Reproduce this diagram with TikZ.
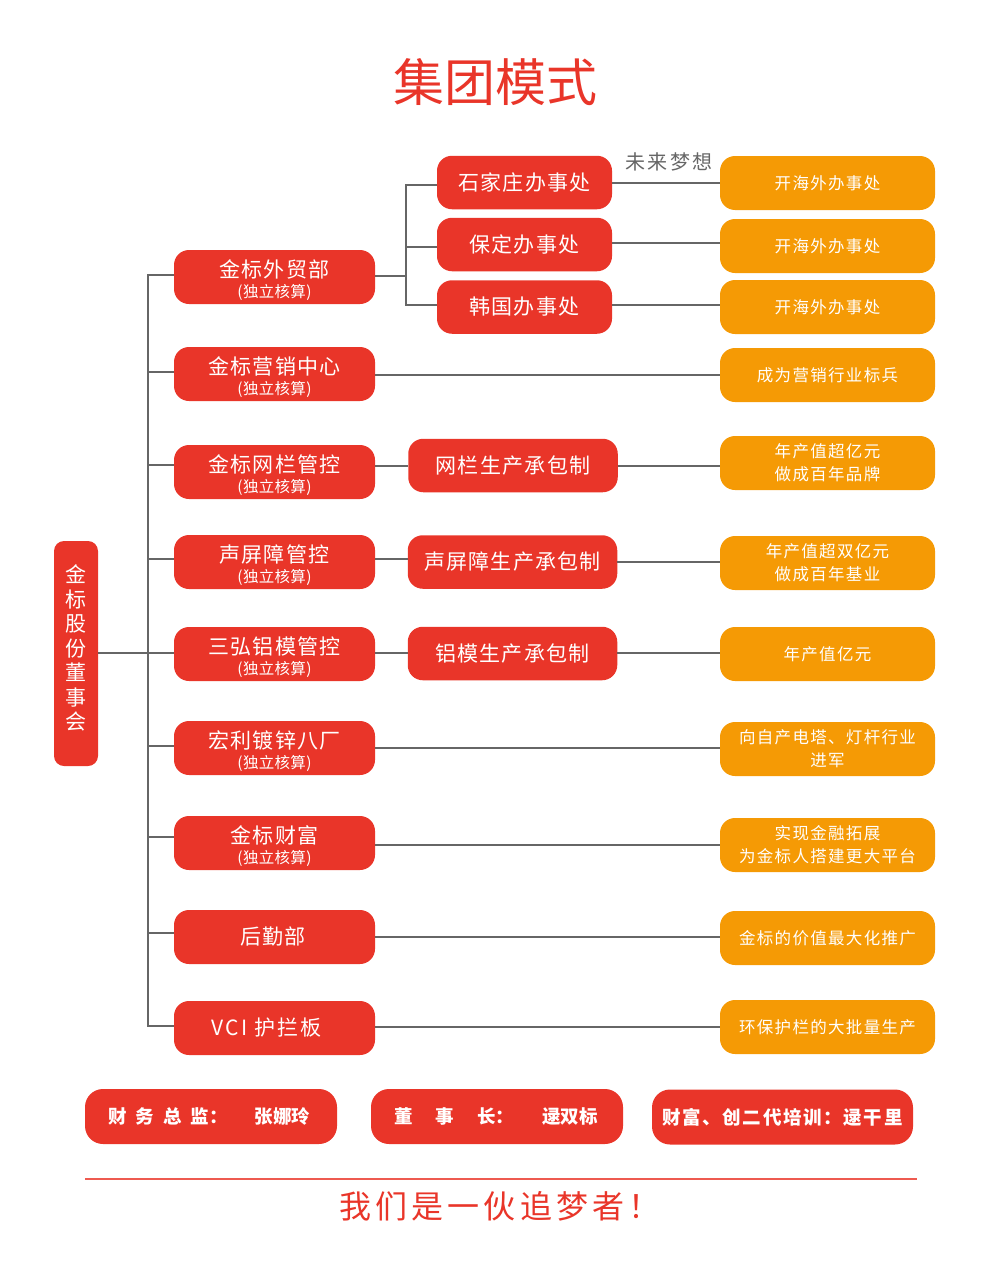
\documentclass[tikz,border=0pt]{standalone}
\usepackage{fontspec}
\setmainfont{Noto Sans CJK SC}
\usetikzlibrary{positioning}
\definecolor{boxred}{HTML}{E93529}
\definecolor{rulered}{HTML}{EE5A50}
\definecolor{goalorange}{HTML}{F59A05}
\definecolor{linkgray}{HTML}{666666}
\newcommand{\deptlabel}[2]{\rule{0pt}{24.5pt}#1\hspace{2pt}\\[-3pt]{\fontsize{15.5}{17}\selectfont\addfontfeature{LetterSpace=2}#2}}
\tikzset{
  link/.style={draw=linkgray,line width=2pt},
  redbox/.style={
    rectangle,
    fill=boxred,
    text=white,
    rounded corners=15pt,
    inner sep=0pt,
    align=center,
    font=\fontsize{21}{23}\selectfont\addfontfeature{LetterSpace=6}
  },
  deptbox/.style={redbox,minimum width=201pt,minimum height=54pt},
  officebox/.style={redbox,minimum width=175pt,minimum height=53.5pt},
  prodbox/.style={redbox,minimum width=209.5pt,minimum height=53.5pt},
  goalbox/.style={
    rectangle,
    fill=goalorange,
    text=white,
    rounded corners=15pt,
    inner sep=0pt,
    align=center,
    minimum width=215pt,
    minimum height=54pt,
    font=\fontsize{16.5}{23}\selectfont\addfontfeature{LetterSpace=8}
  },
  footbox/.style={
    redbox,
    minimum height=55pt,
    rounded corners=18pt,
    font=\fontsize{18.5}{20}\selectfont\bfseries
  }
}
\begin{document}
\begin{tikzpicture}[x=1pt,y=-1pt]
\useasboundingbox (0,0) rectangle (1000,1282);

\node [text=boxred,font=\fontsize{51}{55}\selectfont] (title) at (495,82) {集团模式};

\node [redbox,minimum width=44pt,minimum height=225pt,rounded corners=10pt,font=\fontsize{21}{24.5}\selectfont] (board) at (76,653.5)
  {金\\标\\股\\份\\董\\事\\会\rule[-12pt]{0pt}{12pt}};

\node [deptbox] (trade) at (274.5,277) {\deptlabel{金标外贸部}{(独立核算)}};
\node [deptbox] (sales) at (274.5,374) {\deptlabel{金标营销中心}{(独立核算)}};
\node [deptbox] (fence) at (274.5,472) {\deptlabel{金标网栏管控}{(独立核算)}};
\node [deptbox] (sound) at (274.5,562) {\deptlabel{声屏障管控}{(独立核算)}};
\node [deptbox] (mould) at (274.5,654) {\deptlabel{三弘铝模管控}{(独立核算)}};
\node [deptbox] (zinc) at (274.5,748) {\deptlabel{宏利镀锌八厂}{(独立核算)}};
\node [deptbox] (wealth) at (274.5,843) {\deptlabel{金标财富}{(独立核算)}};
\node [deptbox] (logistics) at (274.5,937) {后勤部\hspace{3pt}};
\node [deptbox] (vci) at (274.5,1028) {\addfontfeature{LetterSpace=10}VCI 护拦板\hspace{16pt}};

\node [officebox] (shijiazhuang) at (524.5,182.5) {石家庄办事处};
\node [officebox] (baoding) at (524.5,244.5) {保定办事处};
\node [officebox] (korea) at (524.5,307) {韩国办事处};

\node [prodbox] (fenceprod) at (513,465.5) {网栏生产承包制};
\node [prodbox] (soundprod) at (512.5,562) {声屏障生产承包制};
\node [prodbox] (mouldprod) at (512.5,653.5) {铝模生产承包制};

\node [goalbox] (goala) at (827.5,183) {开海外办事处};
\node [goalbox] (goalb) at (827.5,246) {开海外办事处};
\node [goalbox] (goalc) at (827.5,307) {开海外办事处};
\node [goalbox] (goald) at (827.5,375) {成为营销行业标兵};
\node [goalbox] (goale) at (827.5,463) {年产值超亿元\\做成百年品牌};
\node [goalbox] (goalf) at (827.5,563) {年产值超双亿元\\做成百年基业};
\node [goalbox] (goalg) at (827.5,654) {年产值亿元};
\node [goalbox] (goalh) at (827.5,749) {向自产电塔、灯杆行业\\进军};
\node [goalbox] (goali) at (827.5,845) {实现金融拓展\\为金标人搭建更大平台};
\node [goalbox] (goalj) at (827.5,938) {金标的价值最大化推广};
\node [goalbox] (goalk) at (827.5,1027) {环保护栏的大批量生产};

\node [text=linkgray,font=\fontsize{20}{22}\selectfont\addfontfeature{LetterSpace=11}] (dream) at (669,162) {未来梦想};

\node [footbox,minimum width=252pt] (finance) at (211,1116.5) {财\hspace{9pt}务\hspace{9pt}总\hspace{9pt}监：\hspace{27pt}张娜玲\hspace{3pt}};
\node [footbox,minimum width=252pt] (chairman) at (497,1116.5) {董\hspace{23pt}事\hspace{23pt}长：\hspace{28pt}逯双标\hspace{2pt}};
\node [footbox,minimum width=261pt] (training) at (782.5,1117) {\addfontfeature{LetterSpace=9}财富、创二代培训：逯干里};

\coordinate (trunk) at (148,653);
\coordinate (officetrunk) at (406,276);

\draw [link] (board.east |- trunk) -- (mould.west |- trunk);
\draw [link] ([yshift=2pt]trade.west) -| (trunk);
\draw [link] ([yshift=2pt]sales.west) -| (trunk);
\draw [link] ([yshift=7pt]fence.west) -| (trunk);
\draw [link] ([yshift=3pt]sound.west) -| (trunk);
\draw [link] ([yshift=2pt]zinc.west) -| (trunk);
\draw [link] ([yshift=6pt]wealth.west) -| (trunk);
\draw [link] ([yshift=4pt]logistics.west) -| (trunk);
\draw [link] ([yshift=2pt]vci.west) -| (trunk);

\draw [link] (trade.east |- officetrunk) -- (officetrunk);
\draw [link] ([yshift=-2.5pt]shijiazhuang.west) -| (officetrunk);
\draw [link] ([yshift=-2pt]baoding.west) -| (officetrunk);
\draw [link] ([yshift=2pt]korea.west) -| (officetrunk);

\draw [link] (shijiazhuang.east) -- (shijiazhuang.east -| goala.west);
\draw [link] ([yshift=1.5pt]baoding.east) -- ([yshift=1.5pt]baoding.east -| goalb.west);
\draw [link] ([yshift=2pt]korea.east) -- ([yshift=2pt]korea.east -| goalc.west);
\draw [link] (sales.east |- goald.west) -- (goald.west);
\draw [link] ([yshift=6pt]fence.east) -- ([yshift=6pt]fence.east -| fenceprod.west);
\draw [link] (fenceprod.east) -- (fenceprod.east -| goale.west);
\draw [link] ([yshift=3pt]sound.east) -- ([yshift=3pt]sound.east -| soundprod.west);
\draw [link] (soundprod.east) -- (soundprod.east -| goalf.west);
\draw [link] (mould.east |- trunk) -- (mouldprod.west |- trunk);
\draw [link] (mouldprod.east |- trunk) -- (goalg.west |- trunk);
\draw [link] (zinc.east) -- (zinc.east -| goalh.west);
\draw [link] (wealth.east |- goali.west) -- (goali.west);
\draw [link] (logistics.east) -- (logistics.east -| goalj.west);
\draw [link] (vci.east |- goalk.west) -- (goalk.west);

\coordinate (ruleleft) at (85,1179);
\coordinate (ruleright) at (917,1179);
\draw [draw=rulered,line width=1.2pt] (ruleleft) -- (ruleright);
\node [text=boxred,font=\fontsize{32}{36}\selectfont\addfontfeature{LetterSpace=13}] (slogan) at (500,1206) {我们是一伙追梦者！};
\end{tikzpicture}
\end{document}
